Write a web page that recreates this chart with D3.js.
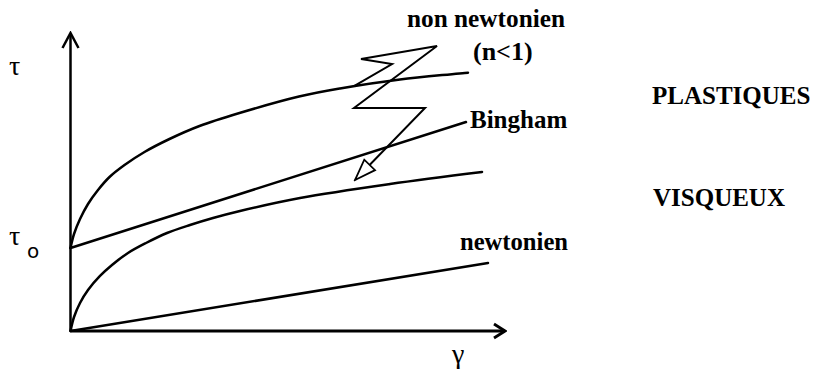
<!DOCTYPE html>
<html>
<head>
<meta charset="utf-8">
<script src="https://cdn.jsdelivr.net/npm/d3@7"></script>
<style>
  html, body { margin: 0; padding: 0; background: #fff; }
  svg { display: block; }
  .serif { font-family: "Liberation Serif", "Tinos", "Times New Roman", "DejaVu Serif", serif; }
</style>
</head>
<body>
<svg id="chart" width="815" height="373"></svg>
<script>
// ---- data (axes: shear rate γ on x, shear stress τ on y, arbitrary units 0..100) ----
const gammaDomain = [0, 100];
const tauDomain = [0, 100];

const plasticNonNewtonianG = [0, 0.81, 2.19, 4.03, 6.33, 8.98, 12.43, 17.03, 22.78, 29.69, 38.89, 52.59, 62.03, 75.83, 91.48];
const plasticNonNewtonianT = [27.85, 32.55, 37.58, 42.62, 47.32, 51.68, 55.70, 60.07, 64.43, 68.79, 73.15, 78.69, 81.38, 84.40, 86.68];

const binghamG = [0, 91.02];
const binghamT = [27.85, 70.13];

const viscousNonNewtonianG = [0, 0.81, 2.19, 4.03, 6.79, 9.55, 13.23, 17.38, 22.21, 27.50, 32.80, 39.01, 52.82, 73.53, 94.71];
const viscousNonNewtonianT = [0, 4.70, 9.40, 13.76, 18.46, 22.15, 26.17, 29.53, 32.89, 35.57, 37.92, 40.27, 44.63, 49.33, 53.36];

const newtonianG = [0, 96.09];
const newtonianT = [0, 22.82];

// zig-zag arrow pointing from the labels to the curves
const zigzagG = [65.25, 74.0, 66.86, 84.35, 65.25, 81.59, 65.48];
const zigzagT = [82.2, 89.6, 91.28, 95.64, 74.83, 74.83, 50.67];

const curveLabels = ["non newtonien", "(n<1)", "Bingham", "newtonien"];
const groupLabels = ["PLASTIQUES", "VISQUEUX"];
const axisLabels = ["τ", "γ"];
const yieldLabel = ["τ", "o"];

// ---- drawing ----
const svg = d3.select("#chart");
const x = d3.scaleLinear().domain(gammaDomain).range([70.5, 505]);
const y = d3.scaleLinear().domain(tauDomain).range([331, 33]);

const defs = svg.append("defs");
defs.append("marker")
  .attr("id", "chevY").attr("markerUnits", "userSpaceOnUse")
  .attr("viewBox", "-18 -10 20 20").attr("refX", 0).attr("refY", 0)
  .attr("markerWidth", 20).attr("markerHeight", 20).attr("orient", "auto")
  .append("path").attr("d", "M-15,-8 L0,0 L-15,8")
  .attr("fill", "none").attr("stroke", "#000").attr("stroke-width", 2.5);
defs.append("marker")
  .attr("id", "chevX").attr("markerUnits", "userSpaceOnUse")
  .attr("viewBox", "-18 -10 20 20").attr("refX", 0).attr("refY", 0)
  .attr("markerWidth", 20).attr("markerHeight", 20).attr("orient", "auto")
  .append("path").attr("d", "M-11,-7 L0,0 L-11,7")
  .attr("fill", "none").attr("stroke", "#000").attr("stroke-width", 2.8);
defs.append("marker")
  .attr("id", "openTri").attr("markerUnits", "userSpaceOnUse")
  .attr("viewBox", "-24 -10 26 20").attr("refX", 0).attr("refY", 0)
  .attr("markerWidth", 26).attr("markerHeight", 20).attr("orient", "auto")
  .append("path").attr("d", "M0,0 L-21,-7.5 L-21,7.5 Z")
  .attr("fill", "#fff").attr("stroke", "#000").attr("stroke-width", 1.8)
  .attr("stroke-linejoin", "miter");

// axes
svg.append("line")
  .attr("x1", x(0)).attr("y1", y(0)).attr("x2", x(0)).attr("y2", y(tauDomain[1]))
  .attr("stroke", "#000").attr("stroke-width", 2.5).attr("marker-end", "url(#chevY)");
svg.append("line")
  .attr("x1", x(0)).attr("y1", y(0)).attr("x2", x(gammaDomain[1])).attr("y2", y(0))
  .attr("stroke", "#000").attr("stroke-width", 3).attr("marker-end", "url(#chevX)");

const zip = (g, t) => g.map((v, i) => [v, t[i]]);
const smooth = d3.line().x(d => x(d[0])).y(d => y(d[1])).curve(d3.curveCatmullRom.alpha(0.5));
const straight = d3.line().x(d => x(d[0])).y(d => y(d[1]));

const series = [
  { pts: zip(plasticNonNewtonianG, plasticNonNewtonianT), gen: smooth },
  { pts: zip(binghamG, binghamT), gen: straight },
  { pts: zip(viscousNonNewtonianG, viscousNonNewtonianT), gen: smooth },
  { pts: zip(newtonianG, newtonianT), gen: straight }
];
svg.selectAll("path.curve").data(series).join("path")
  .attr("class", "curve")
  .attr("d", d => d.gen(d.pts))
  .attr("fill", "none").attr("stroke", "#000").attr("stroke-width", 2.5)
  .attr("stroke-linecap", "round");

// zig-zag arrow
svg.append("path")
  .attr("d", straight(zip(zigzagG, zigzagT)))
  .attr("fill", "none").attr("stroke", "#000").attr("stroke-width", 2)
  .attr("stroke-linejoin", "miter").attr("marker-end", "url(#openTri)");

// labels
const lab = (t, px, py, size, weight) => svg.append("text")
  .attr("class", "serif")
  .attr("x", px).attr("y", py).text(t)
  .style("font-size", size + "px").style("font-weight", weight)
  .attr("fill", "#000");

lab(curveLabels[0], 407, 27, 26, "bold").attr("textLength", 158).attr("lengthAdjust", "spacingAndGlyphs");
lab(curveLabels[1], 473, 60, 26, "bold");
lab(curveLabels[2], 470, 128, 25, "bold");
lab(curveLabels[3], 460, 250, 26, "bold").attr("textLength", 108).attr("lengthAdjust", "spacingAndGlyphs");
lab(groupLabels[0], 652, 104, 25, "bold");
lab(groupLabels[1], 653, 206, 25, "bold");

lab(axisLabels[0], 9, 75, 28, "normal");
lab(axisLabels[1], 452, 363, 28, "normal");
lab(yieldLabel[0], 9, 245, 28, "normal");
svg.append("text").attr("x", 27).attr("y", 258).text(yieldLabel[1])
  .style("font-family", "'DejaVu Sans', sans-serif").style("font-size", "20px").attr("fill", "#000");
</script>
</body>
</html>
